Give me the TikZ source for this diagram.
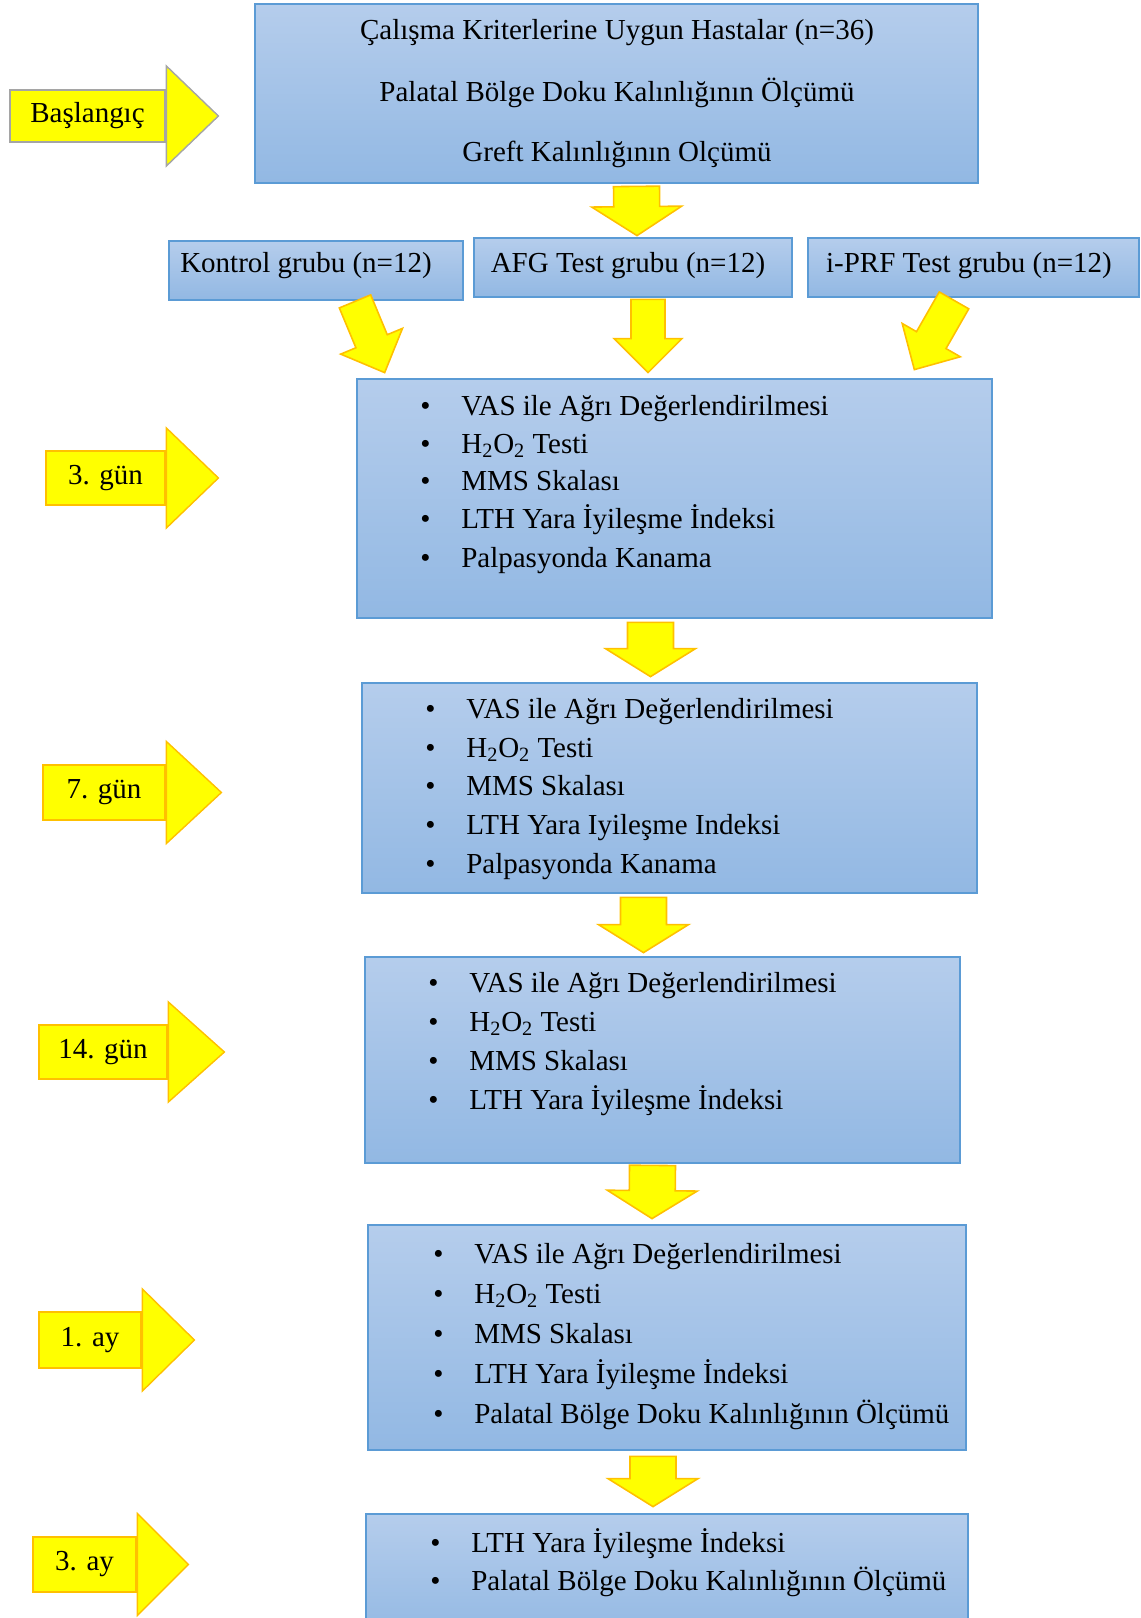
\documentclass[tikz,border=0pt]{standalone}
\usepackage{fontspec}
\setmainfont{Liberation Serif}
\usepackage{tikz}
\usetikzlibrary{calc}
\definecolor{BoxTop}{RGB}{181,205,236}
\definecolor{BoxBottom}{RGB}{146,184,227}
\definecolor{BoxLine}{RGB}{91,155,213}
\definecolor{ArrowFill}{RGB}{255,255,0}
\definecolor{ArrowLine}{RGB}{255,192,0}
\definecolor{GreyLine}{RGB}{165,165,165}
\newcommand{\FlowFont}{\fontsize{16.5}{20}\selectfont}
\newcommand{\Bul}{\makebox[0.82cm][l]{\textbullet}}
\tikzstyle{StepBox}=[rectangle, draw=BoxLine, line width=1.6pt, top color=BoxTop, bottom color=BoxBottom, inner sep=0pt]
\tikzstyle{LineText}=[inner sep=0pt, font=\FlowFont]
\tikzstyle{DayLabel}=[rectangle, draw=ArrowLine, line width=1.6pt, fill=ArrowFill, inner sep=0pt, font=\FlowFont]
\tikzstyle{StartLabel}=[DayLabel, draw=GreyLine]
\tikzstyle{LabelHead}=[draw=ArrowLine, line width=0.8pt, fill=ArrowFill]
\tikzstyle{StartHead}=[LabelHead, draw=GreyLine]
\tikzstyle{FlowArrow}=[draw=ArrowLine, line width=0.9pt, fill=ArrowFill]
% block arrow: tail, tip, shaft half width, head half width, head length
\newcommand{\BlockArrow}[5]{%
  \coordinate (BA-tail) at #1;
  \coordinate (BA-tip) at #2;
  \coordinate (BA-neck) at ($(BA-tip)!#5!(BA-tail)$);
  \draw[FlowArrow] ($(BA-tail)!#3!90:(BA-tip)$) -- ($(BA-neck)!#3!90:(BA-tip)$)
    -- ($(BA-neck)!#4!90:(BA-tip)$) -- (BA-tip) -- ($(BA-neck)!#4!-90:(BA-tip)$)
    -- ($(BA-neck)!#3!-90:(BA-tip)$) -- ($(BA-tail)!#3!-90:(BA-tip)$) -- cycle;}

\begin{document}
\begin{tikzpicture}[x=0.02cm, y=-0.02cm]
\useasboundingbox (0,0) rectangle (1141,1618);
\clip (0,0) rectangle (1141,1618);

% boxes
\node[StepBox, minimum width=14.46cm, minimum height=3.58cm] (Top) at (616.5,93.5) {};
\node[StepBox, minimum width=5.88cm, minimum height=1.18cm] (Kontrol) at (316,270.5) {};
\node[StepBox, minimum width=6.36cm, minimum height=1.18cm] (AFG) at (633,267.5) {};
\node[StepBox, minimum width=6.62cm, minimum height=1.18cm] (IPRF) at (973.5,267.5) {};
\node[StepBox, minimum width=12.7cm, minimum height=4.78cm] (Gun3) at (674.5,498.5) {};
\node[StepBox, minimum width=12.3cm, minimum height=4.2cm] (Gun7) at (669.5,788) {};
\node[StepBox, minimum width=11.9cm, minimum height=4.12cm] (Gun14) at (662.5,1060) {};
\node[StepBox, minimum width=11.96cm, minimum height=4.5cm] (Ay1) at (667,1337.5) {};
\node[StepBox, minimum width=12.04cm, minimum height=2.52cm] (Ay3) at (667,1577) {};

% texts
\node[LineText, anchor=base] (TopA) at (617,40) {Çalışma Kriterlerine Uygun Hastalar (n=36)};
\node[LineText, anchor=base] (TopB) at (617,102) {Palatal Bölge Doku Kalınlığının Ölçümü};
\node[LineText, anchor=base] (TopC) at (617,162) {Greft Kalınlığının Olçümü};
\node[LineText, anchor=base] (KontrolText) at (306,273) {Kontrol grubu (n=12)};
\node[LineText, anchor=base] (AFGText) at (628,273) {AFG Test grubu (n=12)};
\node[LineText, anchor=base] (IPRFText) at (969,273) {i-PRF Test grubu (n=12)};

\node[LineText, anchor=base west] (Gun3a) at (420,415) {\Bul VAS ile Ağrı Değerlendirilmesi};
\node[LineText, anchor=base west] (Gun3b) at (420,453) {\Bul H\textsubscript{2}O\textsubscript{2} Testi};
\node[LineText, anchor=base west] (Gun3c) at (420,490) {\Bul MMS Skalası};
\node[LineText, anchor=base west] (Gun3d) at (420,528) {\Bul LTH Yara İyileşme İndeksi};
\node[LineText, anchor=base west] (Gun3e) at (420,567) {\Bul Palpasyonda Kanama};

\node[LineText, anchor=base west] (Gun7a) at (425,718) {\Bul VAS ile Ağrı Değerlendirilmesi};
\node[LineText, anchor=base west] (Gun7b) at (425,757) {\Bul H\textsubscript{2}O\textsubscript{2} Testi};
\node[LineText, anchor=base west] (Gun7c) at (425,795) {\Bul MMS Skalası};
\node[LineText, anchor=base west] (Gun7d) at (425,834) {\Bul LTH Yara Iyileşme Indeksi};
\node[LineText, anchor=base west] (Gun7e) at (425,873) {\Bul Palpasyonda Kanama};

\node[LineText, anchor=base west] (Gun14a) at (428,992) {\Bul VAS ile Ağrı Değerlendirilmesi};
\node[LineText, anchor=base west] (Gun14b) at (428,1031) {\Bul H\textsubscript{2}O\textsubscript{2} Testi};
\node[LineText, anchor=base west] (Gun14c) at (428,1070) {\Bul MMS Skalası};
\node[LineText, anchor=base west] (Gun14d) at (428,1109) {\Bul LTH Yara İyileşme İndeksi};

\node[LineText, anchor=base west] (Ay1a) at (433,1263) {\Bul VAS ile Ağrı Değerlendirilmesi};
\node[LineText, anchor=base west] (Ay1b) at (433,1303) {\Bul H\textsubscript{2}O\textsubscript{2} Testi};
\node[LineText, anchor=base west] (Ay1c) at (433,1343) {\Bul MMS Skalası};
\node[LineText, anchor=base west] (Ay1d) at (433,1383) {\Bul LTH Yara İyileşme İndeksi};
\node[LineText, anchor=base west] (Ay1e) at (433,1423) {\Bul Palatal Bölge Doku Kalınlığının Ölçümü};

\node[LineText, anchor=base west] (Ay3a) at (430,1552) {\Bul LTH Yara İyileşme İndeksi};
\node[LineText, anchor=base west] (Ay3b) at (430,1590) {\Bul Palatal Bölge Doku Kalınlığının Ölçümü};

% time labels
\node[StartLabel, minimum width=3.1cm, minimum height=1.04cm] (LblStart) at (87.5,116) {Başlangıç};
\draw[StartHead] (LblStart.east) ++(0,-50) -- ++(52,50) -- ++(-52,50) -- cycle;
\node[DayLabel, minimum width=2.38cm, minimum height=1.08cm] (LblGun3) at (105.5,478) {3. gün};
\draw[LabelHead] (LblGun3.east) ++(0,-50) -- ++(52,50) -- ++(-52,50) -- cycle;
\node[DayLabel, minimum width=2.44cm, minimum height=1.1cm] (LblGun7) at (104,792.5) {7. gün};
\draw[LabelHead] (LblGun7.east) ++(0,-51) -- ++(55,51) -- ++(-55,51) -- cycle;
\node[DayLabel, minimum width=2.56cm, minimum height=1.08cm] (LblGun14) at (103,1052) {14. gün};
\draw[LabelHead] (LblGun14.east) ++(0,-50) -- ++(56,50) -- ++(-56,50) -- cycle;
\node[DayLabel, minimum width=2.04cm, minimum height=1.12cm] (LblAy1) at (90,1340) {1. ay};
\draw[LabelHead] (LblAy1.east) ++(0,-51) -- ++(52,51) -- ++(-52,51) -- cycle;
\node[DayLabel, minimum width=2.06cm, minimum height=1.1cm] (LblAy3) at (84.5,1564.5) {3. ay};
\draw[LabelHead] (LblAy3.east) ++(0,-51) -- ++(51,51) -- ++(-51,51) -- cycle;

% flow arrows
\BlockArrow{($(Top.south)+(20,2)$)}{($(AFG.north)+(4,-1)$)}{0.46cm}{0.9cm}{0.58cm}
\BlockArrow{($(Kontrol.south)+(39,0)$)}{($(Gun3.north west)+(29,-5)$)}{0.34cm}{0.67cm}{0.68cm}
\BlockArrow{($(AFG.south)+(15,1)$)}{($(Gun3.north)+(-26.5,-5)$)}{0.34cm}{0.68cm}{0.68cm}
\BlockArrow{($(IPRF.south)+(-19.5,2)$)}{($(Gun3.north east)+(-79,-8)$)}{0.34cm}{0.67cm}{0.68cm}
\BlockArrow{($(Gun3.south)+(-24,3)$)}{($(Gun7.north)+(-19,-5)$)}{0.46cm}{0.9cm}{0.56cm}
\BlockArrow{($(Gun7.south)+(-26,3)$)}{($(Gun14.north)+(-19,-3)$)}{0.46cm}{0.9cm}{0.56cm}
\BlockArrow{($(Gun14.south)+(-10,1)$)}{($(Ay1.north)+(-15,-5)$)}{0.46cm}{0.9cm}{0.56cm}
\BlockArrow{($(Ay1.south)+(-14,5)$)}{($(Ay3.north)+(-14,-6)$)}{0.46cm}{0.9cm}{0.56cm}
\end{tikzpicture}
\end{document}
